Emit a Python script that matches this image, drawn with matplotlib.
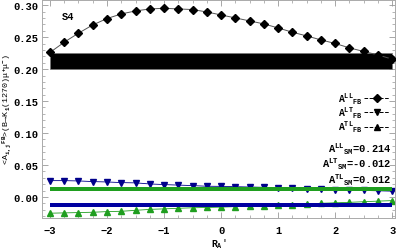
import matplotlib
matplotlib.use("Agg")
import matplotlib.pyplot as plt
from matplotlib.lines import Line2D
from matplotlib.ticker import MultipleLocator

plt.rcParams['font.family'] = ['Liberation Mono', 'DejaVu Sans']
plt.rcParams['font.weight'] = 'bold'
plt.rcParams['mathtext.fontset'] = 'custom'
plt.rcParams['mathtext.rm'] = 'Liberation Mono:bold'
plt.rcParams['mathtext.it'] = 'Liberation Mono:bold'
plt.rcParams['mathtext.bf'] = 'Liberation Mono:bold'

# data
ra = [-3, -2.75, -2.5, -2.25, -2, -1.75, -1.5, -1.25, -1, -0.75, -0.5, -0.25,
      0, 0.25, 0.5, 0.75, 1, 1.25, 1.5, 1.75, 2, 2.25, 2.5, 2.75, 3]
a_ll = [0.2261, 0.2422, 0.2563, 0.2692, 0.2792, 0.2864, 0.2911, 0.2942, 0.2953,
        0.2942, 0.2933, 0.2895, 0.2848, 0.2802, 0.2755, 0.2708, 0.2645, 0.2578,
        0.2520, 0.2458, 0.2402, 0.2333, 0.2277, 0.2223, 0.2156]
a_lt = [0.0255, 0.0255, 0.0250, 0.0240, 0.0234, 0.0224, 0.0220, 0.0203, 0.0193,
        0.0185, 0.0177, 0.0167, 0.0165, 0.0160, 0.0155, 0.0150, 0.0142, 0.0135,
        0.0130, 0.0122, 0.0116, 0.0110, 0.0102, 0.0096, 0.0090]
a_tl = [-0.0255, -0.0250, -0.0245, -0.0240, -0.0230, -0.0225, -0.0210, -0.0195,
        -0.0187, -0.0178, -0.0170, -0.0165, -0.0160, -0.0152, -0.0146, -0.0140,
        -0.0130, -0.0120, -0.0110, -0.0100, -0.0092, -0.0085, -0.0075, -0.0066,
        -0.0058]
sm_range = [-3, 3]
sm_ll_band = [0.200, 0.225]
sm_lt_band = [-0.0151, -0.0089]
sm_tl_band = [0.0089, 0.0151]
sm_values = {'LL': '0.214', 'LT': '-0.012', 'TL': '0.012'}

green = '#1f9e1f'
navy = '#00008b'
blue_band = '#0000a0'

fig = plt.figure(figsize=(4.0, 2.51), dpi=100)
ax = fig.add_axes([0.105, 0.1275, 0.8825, 0.8705])

ax.plot(ra, a_lt, color=navy, lw=0.6, marker='v', ms=4.5, ls='-', zorder=2)
ax.plot(ra, a_tl, color=green, lw=0.6, marker='^', ms=4.5, ls='-', zorder=2)
ax.plot(ra, a_ll, color='#555555', lw=0.7, marker='D', ms=4,
        mfc='black', mec='black', zorder=3)

ax.fill_between(sm_range, sm_ll_band[0], sm_ll_band[1], color='black',
                lw=0.5, ec='#777777', zorder=2.5)
ax.fill_between(sm_range, sm_lt_band[0], sm_lt_band[1], color=blue_band,
                lw=0, zorder=2.5)
ax.fill_between(sm_range, sm_tl_band[0], sm_tl_band[1], color=green,
                lw=0, zorder=2.5)

ax.set_xlim(-3.14, 3.05)
ax.set_ylim(-0.033, 0.309)
ax.xaxis.set_minor_locator(MultipleLocator(0.25))
ax.yaxis.set_minor_locator(MultipleLocator(0.01))
ax.set_yticks([0, 0.05, 0.10, 0.15, 0.20, 0.25, 0.30])
ax.set_yticklabels(['0.00', '0.05', '0.10', '0.15', '0.20', '0.25', '0.30'])
ax.set_xticks([-3, -2, -1, 0, 1, 2, 3])
ax.set_xticklabels(['\u22123', '\u22122', '\u22121', '0', '1', '2', '3'])
ax.tick_params(which='both', direction='in', top=True, right=True,
               color='#999999', labelsize=7.5, labelcolor='black')
ax.tick_params(which='major', length=4, width=0.6)
ax.tick_params(which='minor', length=2, width=0.5)
ax.tick_params(axis='x', pad=5)
ax.tick_params(axis='y', pad=2.5)
for s in ax.spines.values():
    s.set_color('#aaaaaa')
    s.set_linewidth(0.7)

ax.set_xlabel("$R_A$'", fontsize=7, labelpad=1)
ax.set_ylabel('<A$_{i,j}$$^{FB}$>(B\u2192K$_1$(1270)\u03bc$^{+}$\u03bc$^{-}$)',
              fontsize=6)
ax.yaxis.label.set_va('center')
ax.yaxis.set_label_coords(-0.099, 0.5)

ax.text(-2.8, 0.278, 'S4', fontsize=7.5, fontweight='bold')

handles = [Line2D([], [], color='black', ls='--', lw=0.7, marker='D', ms=4),
           Line2D([], [], color='black', ls='--', lw=0.7, marker='v', ms=4.5),
           Line2D([], [], color='black', ls='--', lw=0.7, marker='^', ms=4.5)]
labels = [r'A$^{LL}$$_{FB}$', r'A$^{LT}$$_{FB}$', r'A$^{TL}$$_{FB}$']
ax.legend(handles, labels, loc='upper right', bbox_to_anchor=(1.0, 0.61),
          frameon=False, markerfirst=False, fontsize=7, handlelength=2.6,
          handletextpad=0.1, labelspacing=-0.1, borderpad=0.1)

sm_text = '\n'.join('A$^{%s}$$_{SM}$=%s' % (k, sm_values[k])
                    for k in ['LL', 'LT', 'TL'])
ax.text(2.98, 0.052, sm_text, ha='right', va='center', multialignment='right',
        fontsize=7.5, linespacing=1.05)

fig.savefig('out.png', dpi=100)
